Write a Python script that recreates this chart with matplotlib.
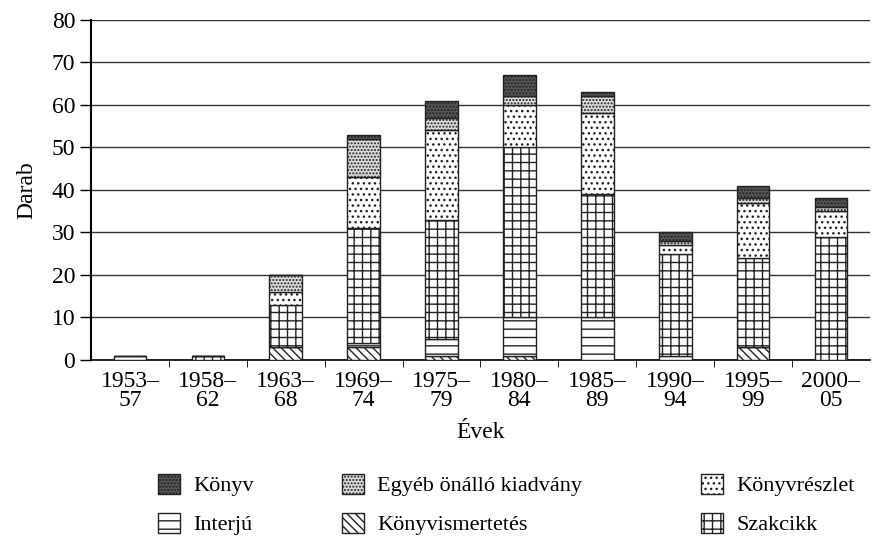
import matplotlib.pyplot as plt
import matplotlib.patches as mpatches
import numpy as np

periods = ['1953–\n57', '1958–\n62', '1963–\n68', '1969–\n74', '1975–\n79',
           '1980–\n84', '1985–\n89', '1990–\n94', '1995–\n99', '2000–\n05']

# stacked from the bottom up
konyvismertetes = [0, 0, 3, 3, 1, 1, 0, 0, 3, 0]
interju = [0, 0, 0, 1, 4, 9, 10, 1, 0, 0]
szakcikk = [0, 1, 10, 27, 28, 40, 29, 24, 21, 29]
konyvreszlet = [1, 0, 3, 12, 21, 10, 19, 2, 13, 6]
egyeb = [0, 0, 4, 9, 3, 2, 4, 1, 1, 1]
konyv = [0, 0, 0, 1, 4, 5, 1, 2, 3, 2]

series = [
    ('Könyvismertetés', konyvismertetes, 'white', '\\\\\\\\'),
    ('Interjú', interju, 'white', '--'),
    ('Szakcikk', szakcikk, 'white', '++'),
    ('Könyvrészlet', konyvreszlet, 'white', '...'),
    ('Egyéb önálló kiadvány', egyeb, '#dddddd', '.....'),
    ('Könyv', konyv, '#555555', '.....'),
]


def main():
    plt.rcParams['font.family'] = ['Liberation Serif', 'DejaVu Serif']
    plt.rcParams['hatch.linewidth'] = 1.0

    fig = plt.figure(figsize=(8.76, 5.37), dpi=100)
    ax = fig.add_axes([0.104, 0.33, 0.889, 0.633])

    x = np.arange(len(periods))
    bottom = np.zeros(len(periods))
    for name, vals, fc, hatch in series:
        vals = np.array(vals, dtype=float)
        ax.bar(x, vals, 0.42, bottom=bottom, color=fc, hatch=hatch,
               edgecolor='#222222', linewidth=1.0, zorder=3)
        bottom += vals

    ax.set_xlim(-0.5, len(periods) - 0.5)
    ax.set_ylim(0, 80)
    ax.set_yticks(range(0, 81, 10))
    ax.yaxis.grid(True, color='#333333', linewidth=1.0, zorder=0)
    ax.set_xticks(x)
    ax.set_xticklabels(periods, linespacing=0.85)
    ax.set_xticks(np.arange(0.5, len(periods) - 0.5, 1), minor=True)
    ax.tick_params(axis='x', which='major', length=0, labelsize=17, pad=8)
    ax.tick_params(axis='x', which='minor', length=5, direction='out')
    ax.tick_params(axis='y', labelsize=17, length=8, direction='out', width=1)
    for s in ['top', 'right']:
        ax.spines[s].set_visible(False)
    ax.spines['left'].set_linewidth(1.5)
    ax.spines['bottom'].set_linewidth(1.2)

    ax.set_ylabel('Darab', fontsize=17, labelpad=10)
    ax.set_xlabel('Évek', fontsize=17, labelpad=8)

    # legend in three columns placed by hand
    cols = [
        (0.180, ['Könyv', 'Interjú']),
        (0.390, ['Egyéb önálló kiadvány', 'Könyvismertetés']),
        (0.800, ['Könyvrészlet', 'Szakcikk']),
    ]
    for xpos, names in cols:
        hs = []
        for name in names:
            for n, vals, fc, hatch in series:
                if n == name:
                    hs.append(mpatches.Patch(facecolor=fc, hatch=hatch,
                                             edgecolor='#222222', label=n))
        fig.legend(handles=hs, loc='upper left', bbox_to_anchor=(xpos, 0.118),
                   frameon=False, fontsize=16, handlelength=1.0,
                   handleheight=1.0, handletextpad=0.6, labelspacing=0.75,
                   borderaxespad=0, borderpad=0)

    fig.savefig('out.png', dpi=100)


if __name__ == '__main__':
    main()
